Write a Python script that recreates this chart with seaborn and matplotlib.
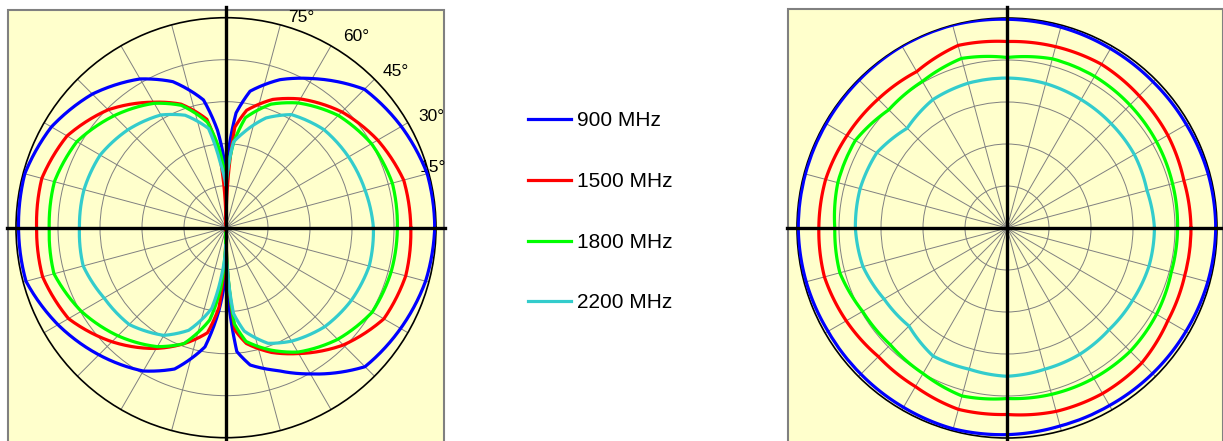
import numpy as np
import pandas as pd
import matplotlib
matplotlib.use("Agg")
import matplotlib.pyplot as plt
import seaborn as sns
from matplotlib.patches import Rectangle

plt.rcParams['font.family'] = ['Liberation Sans', 'DejaVu Sans']

freqs = ['900 MHz', '1500 MHz', '1800 MHz', '2200 MHz']
colors = ['#0000FF', '#FF0000', '#00FF00', '#33CCCC']

# left chart: vertical pattern (figure-8), angle in degrees, radius in grid rings (outer ring = 5)
ang_left = [0, 15, 30, 45, 60, 70, 80, 85, 90, 95, 100, 110, 120, 135, 150, 165,
            180, 195, 210, 225, 240, 250, 260, 265, 270, 275, 280, 290, 300, 315, 330, 345]
left_900 = [4.97, 4.96, 4.82, 4.66, 4.10, 3.75, 3.30, 2.74, 1.30, 2.33, 3.09, 3.70, 4.09, 4.50, 4.80, 4.96,
            4.94, 4.93, 4.62, 4.28, 3.94, 3.58, 2.88, 2.00, 1.00, 2.96, 3.32, 3.62, 4.02, 4.68, 4.80, 4.92]
left_1500 = [4.40, 4.38, 4.17, 3.90, 3.54, 3.25, 2.84, 2.40, 0.05, 1.74, 2.62, 3.13, 3.45, 3.97, 4.37, 4.54,
             4.51, 4.52, 4.33, 3.84, 3.32, 2.94, 2.54, 1.90, 0.05, 2.45, 2.80, 3.16, 3.46, 3.95, 4.34, 4.43]
left_1800 = [4.08, 4.10, 4.00, 3.78, 3.43, 3.13, 2.66, 2.02, 1.05, 1.90, 2.55, 3.10, 3.42, 3.77, 4.10, 4.23,
             4.21, 4.24, 3.98, 3.64, 3.27, 2.94, 2.23, 1.45, 0.10, 2.30, 2.75, 3.10, 3.42, 3.76, 4.02, 4.07]
left_2200 = [3.51, 3.43, 3.37, 3.30, 3.11, 2.78, 2.28, 2.05, 1.00, 1.55, 2.40, 2.85, 3.10, 3.30, 3.46, 3.50,
             3.49, 3.52, 3.35, 3.26, 2.96, 2.60, 1.95, 1.10, 0.40, 2.05, 2.50, 2.93, 3.12, 3.33, 3.45, 3.53]

# right chart: horizontal pattern (near omni)
ang_right = [0, 15, 30, 45, 60, 75, 90, 105, 120, 135, 150, 165,
             180, 195, 210, 225, 240, 255, 270, 285, 300, 315, 330, 345]
right_900 = [4.97, 4.96, 4.93, 4.92, 4.93, 4.95, 4.97, 5.00, 5.00, 4.98, 4.97, 4.97,
             4.97, 4.95, 4.92, 4.92, 4.93, 4.95, 4.92, 4.88, 4.88, 4.90, 4.92, 4.95]
right_1500 = [4.38, 4.36, 4.42, 4.45, 4.50, 4.47, 4.44, 4.50, 4.30, 4.34, 4.40, 4.47,
              4.48, 4.50, 4.42, 4.33, 4.36, 4.47, 4.44, 4.52, 4.55, 4.54, 4.42, 4.38]
right_1800 = [4.06, 4.08, 4.11, 4.14, 4.17, 4.17, 4.06, 4.18, 4.03, 3.98, 4.17, 4.17,
              4.10, 4.12, 3.97, 3.93, 4.00, 4.14, 4.06, 4.10, 4.13, 4.15, 4.11, 4.05]
right_2200 = [3.51, 3.45, 3.50, 3.51, 3.53, 3.56, 3.57, 3.57, 3.53, 3.36, 3.58, 3.62,
              3.61, 3.55, 3.38, 3.30, 3.52, 3.48, 3.53, 3.48, 3.47, 3.43, 3.45, 3.50]

angle_labels = ['75°', '60°', '45°', '30°', '15°']


def to_frame(angles, series):
    rows = []
    for name, vals in zip(freqs, series):
        th = list(angles) + [angles[0] + 360]
        rr = list(vals) + [vals[0]]
        for t, r in zip(th, rr):
            rows.append({'theta': np.deg2rad(t), 'r': r, 'freq': name})
    return pd.DataFrame(rows)


W, H = 1223, 441
fig = plt.figure(figsize=(W / 100, H / 100), dpi=100)

# yellow plot areas
bg = fig.add_axes([0, 0, 1, 1])
bg.set_xlim(0, W)
bg.set_ylim(H, 0)
bg.axis('off')
bg.add_patch(Rectangle((7.5, 9.5), 436, 440, facecolor='#FFFFCC', edgecolor='#808080', lw=1.5))
bg.add_patch(Rectangle((788, 9), 434.5, 440, facecolor='#FFFFCC', edgecolor='#808080', lw=1.5))


def polar_panel(cx, cy, df, ends):
    R = 210
    ax = fig.add_axes([(cx - R) / W, (H - cy - R) / H, 2 * R / W, 2 * R / H], projection='polar')
    ax.set_facecolor('none')
    ax.set_theta_zero_location('E')
    sns.lineplot(data=df, x='theta', y='r', hue='freq', palette=colors, sort=False,
                 estimator=None, lw=2.3, ax=ax, zorder=3)
    # let the polar transform bend each segment along theta
    for ln in ax.lines:
        ln.get_path()._interpolation_steps = 30
    ax.set_ylim(0, 5)
    ax.set_rgrids([1, 2, 3, 4], labels=[])
    ax.set_thetagrids(range(0, 360, 15), labels=[])
    ax.grid(True, color='#808080', lw=0.7)
    ax.spines['polar'].set_color('black')
    ax.spines['polar'].set_linewidth(1.2)
    ax.set_xlabel('')
    ax.set_ylabel('')
    # heavy axis cross
    for t, r in ends:
        ax.plot([np.deg2rad(t), np.deg2rad(t)], [0, r], color='black', lw=2.4,
                clip_on=False, zorder=5)
    return ax


axl = polar_panel(226, 227.7, to_frame(ang_left, [left_900, left_1500, left_1800, left_2200]),
                  [(0, 5.21), (180, 5.21), (90, 5.25), (270, 5.4)])
axr = polar_panel(1007, 228, to_frame(ang_right, [right_900, right_1500, right_1800, right_2200]),
                  [(0, 5.2), (180, 5.24), (90, 5.26), (270, 5.4)])

# elevation angle labels
for lab, t, r in zip(angle_labels, [70.4, 55.7, 42.5, 28.4, 16.1], [5.32, 5.5, 5.49, 5.55, 5.13]):
    axl.text(np.deg2rad(t), r, lab, fontsize=12.5, ha='center', va='center', zorder=2)

handles, labels = axl.get_legend_handles_labels()
axl.get_legend().remove()
axr.get_legend().remove()
leg = fig.legend(handles, labels, loc='center left', bbox_to_anchor=(528 / W, 1 - 212 / H),
                 frameon=False, fontsize=15, handlelength=2.07, handletextpad=0.3,
                 labelspacing=2.0, borderpad=0, borderaxespad=0)
for h in leg.get_lines():
    h.set_linewidth(2.3)

fig.savefig('out.png', dpi=100)
